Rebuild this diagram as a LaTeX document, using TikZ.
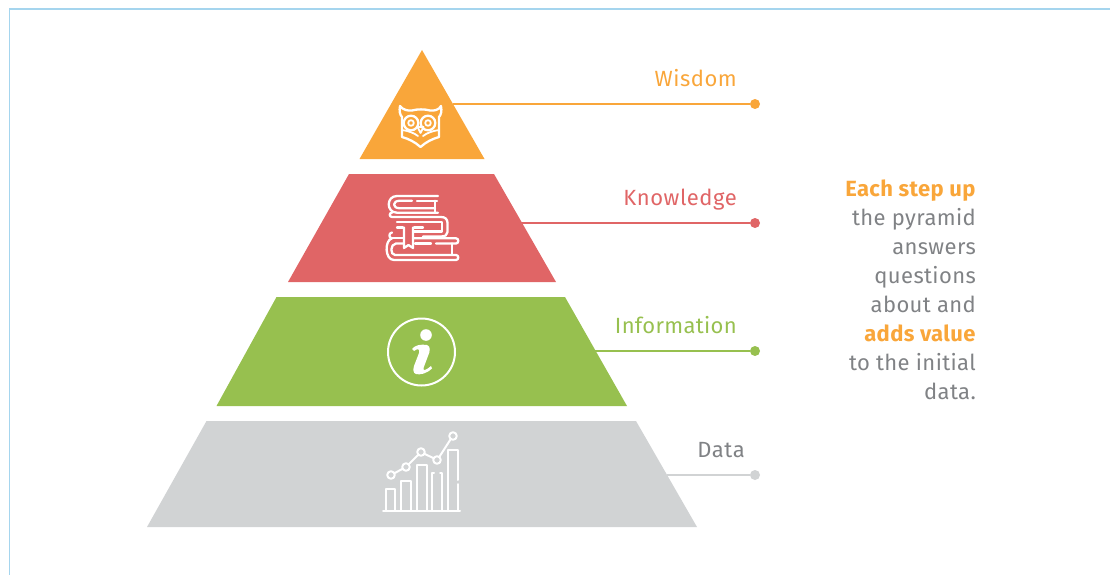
\documentclass[tikz,border=0pt]{standalone}
\usepackage{fontspec}
\setmainfont{Fira Sans}
\definecolor{orng}{HTML}{F9A63A}
\definecolor{redd}{HTML}{E06566}
\definecolor{grn}{HTML}{97C04F}
\definecolor{gry}{HTML}{D1D3D4}
\definecolor{txtg}{HTML}{808285}
\definecolor{edge}{HTML}{A5D5EE}
\tikzset{
  lab/.style={anchor=east,inner sep=0pt,font=\fontsize{22}{22}\selectfont\addfontfeature{LetterSpace=2.5}},
  dot/.style={circle,inner sep=0pt,minimum size=10pt},
  icon/.style={draw=white,line width=2.3pt,line cap=round,line join=round},
  conn/.style={line width=1.5pt}
}
\begin{document}
\begin{tikzpicture}[x=1pt,y=-1pt]
\useasboundingbox (0,0) rectangle (1110,575);
\draw[edge,line width=1.3pt] (9.5,575) -- (9.5,9) -- (1110,9);
% steps
\fill[orng] (422,50) -- (484.5,159) -- (359.5,159) -- cycle;
\fill[redd] (349,174) -- (494,174) -- (556,282) -- (288,282) -- cycle;
\fill[grn] (276.5,297) -- (565,297) -- (627,406) -- (216.5,406) -- cycle;
\fill[gry] (206.5,421) -- (636,421) -- (697,527) -- (147,527) -- cycle;
% connectors
\coordinate (wS) at (453,104);
\coordinate (kS) at (521,223);
\coordinate (iS) at (595,351);
\coordinate (dS) at (667,475);
\node[dot,fill=orng] (wD) at (755,104) {};
\node[dot,fill=redd] (kD) at (755,223) {};
\node[dot,fill=grn] (iD) at (755,351) {};
\node[dot,fill=gry] (dD) at (755,475) {};
\draw[conn,orng] (wS) -- (wD);
\draw[conn,redd] (kS) -- (kD);
\draw[conn,grn] (iS) -- (iD);
\draw[conn,gry] (dS) -- (dD);
% labels
\node[lab,text=orng] (wL) at (737,78) {Wisdom};
\node[lab,text=redd] (kL) at (737,199.5) {Knowledge};
\node[lab,text=grn,font=\fontsize{22}{22}\selectfont\addfontfeature{LetterSpace=1.5}] (iL) at (737,325) {Information};
\node[lab,text=txtg] (dL) at (745,450) {Data};
% side text
\node[anchor=north east,inner sep=0pt,align=right,text=txtg,
  font=\fontsize{22}{29}\selectfont\addfontfeature{LetterSpace=1.7}] (side) at (976,179.5)
  {\textcolor{orng}{\textbf{Each step up}}\\the pyramid\\answers\\questions\\about and\\\textcolor{orng}{\textbf{adds value}}\\to the initial\\data.};
% owl
\begin{scope}[icon]
\draw (400,106) .. controls (403,110) and (408,111) .. (412,110.5) .. controls (417,109) and (425,109) .. (430,110.5) .. controls (434,111) and (439,110) .. (441,106) .. controls (442,111) and (441,115) .. (439,117) -- (439,137) .. controls (432,139) and (426,142) .. (420.5,147) .. controls (415,142) and (409,139) .. (402,137) -- (402,117) .. controls (400,115) and (399,111) .. (400,106) -- cycle;
\draw (411,123) circle (7.3);
\draw (428,123) circle (7.3);
\draw[line width=1.8pt] (411,123) circle (2.8);
\draw[line width=1.8pt] (428,123) circle (2.8);
\draw[line width=1.8pt] (417.5,127) -- (420.5,133) -- (423.5,127) -- cycle;
\draw[line width=1.8pt] (402,130) .. controls (409,131) and (414,133) .. (418,136);
\draw[line width=1.8pt] (439,130) .. controls (432,131) and (427,133) .. (423,136);
\end{scope}
% books
\begin{scope}[icon]
% top book
\draw (438,196) -- (397,196) .. controls (386,196) and (386,212.7) .. (397,212.7) -- (438,212.7);
\draw (412,200.7) -- (400,200.7) .. controls (392,200.7) and (392,208.3) .. (400,208.3) -- (435,208.3);
\draw (417,200.7) -- (437,200.7);
\draw (435,200.7) -- (435,212.7);
% middle book
\draw (392,217) -- (441,217) .. controls (445,217) and (447.5,219) .. (447.5,223) -- (447.5,232) .. controls (447.5,235) and (445,236.5) .. (441,236.5) -- (423,236.5);
\draw (392,217) .. controls (389,217) and (389,212.7) .. (392,212.7);
\draw (397,222.3) -- (442,222.3) -- (442,231.5) -- (414,231.5);
\draw (397,227.5) -- (403,227.5);
\draw (414,227.5) -- (423,227.5);
% bookmark
\draw (404,227.5) -- (404,248) -- (408.5,245) -- (413,248) -- (413,227.5);
% bottom book
\draw (392,238.3) -- (403,238.3);
\draw (414,238.3) -- (456,238.3) .. controls (459,238.3) and (459,243.5) .. (456,243.5) -- (436,243.5);
\draw (392,232.5) .. controls (388.5,233) and (388.5,238) .. (392,238.3);
\draw (392,238.3) .. controls (384.5,240) and (384.5,260) .. (394,260) -- (456,260) .. controls (459,260) and (459,255) .. (456,255) -- (395,255) .. controls (390,255) and (390,244) .. (396,243.5) -- (403,243.5);
\draw (415,243.5) -- (431,243.5);
\draw (452,243.5) -- (452,255);
\end{scope}
% info
\draw[draw=white,line width=2pt] (421.5,352) circle (33.5);
\fill[white] (426,335) circle (5.8);
\fill[white] (412,349) .. controls (415,345) and (421,344) .. (427,345) .. controls (431,346) and (430,352) .. (428,356) -- (423.5,368) .. controls (423,371) and (425,371) .. (431,366) -- (432,368.5) .. controls (426,374) and (420,375) .. (416,374) .. controls (413,373) and (413,370) .. (414,366) -- (419,353) .. controls (420,349) and (418,348) .. (414,351) -- cycle;
% chart
\begin{scope}[icon,line width=2pt]
\draw (383,511) -- (460,511);
\draw (386,511) -- (386,488.5) -- (395,488.5) -- (395,511);
\draw (401,511) -- (401,481) -- (411,481) -- (411,511);
\draw (417,511) -- (417,465) -- (427,465) -- (427,511);
\draw (432,511) -- (432,473) -- (434,473);
\draw (440,473) -- (442,473) -- (442,511);
\draw (448,511) -- (448,450) -- (458,450) -- (458,480);
\draw (458,484) -- (458,511);
\draw (391,475) circle (3.8);
\draw (406,467) circle (3.8);
\draw (421,452) circle (3.8);
\draw (437,460) circle (3.8);
\draw (453,436) circle (3.8);
\draw (394.5,473.2) -- (402.5,468.8);
\draw (408.7,464.2) -- (418.3,454.8);
\draw (424.5,453.8) -- (433.5,458.2);
\draw (439.3,456.9) -- (450.7,439.1);
\end{scope}
\end{tikzpicture}
\end{document}
